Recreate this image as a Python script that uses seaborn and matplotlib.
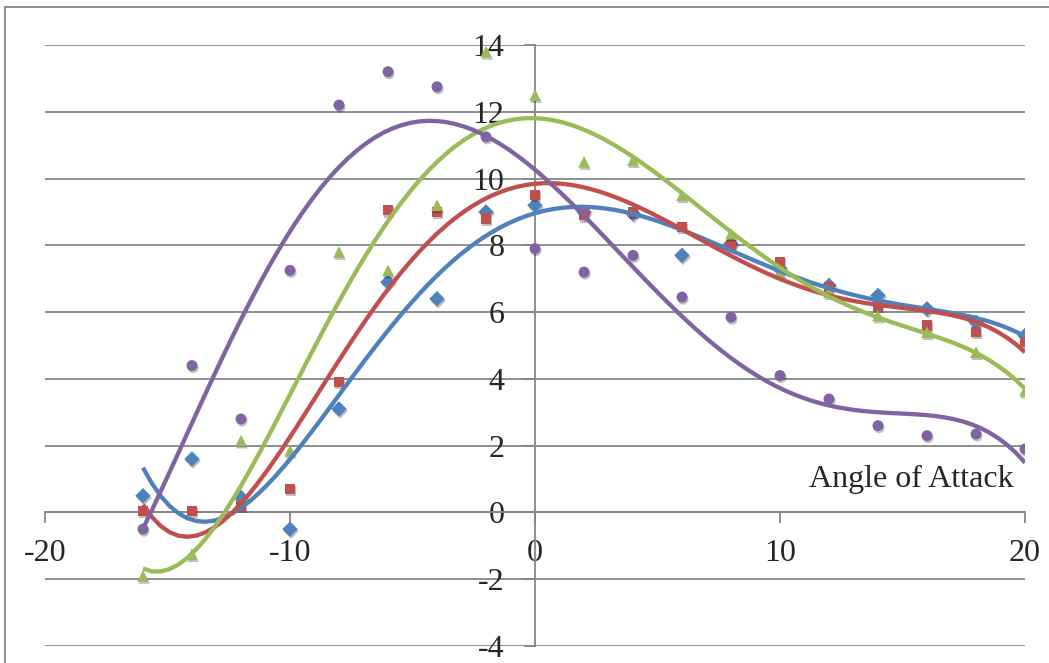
import matplotlib.pyplot as plt
import matplotlib.patheffects as pe
from matplotlib.patches import Rectangle
import numpy as np
import seaborn as sns

# angle of attack values (degrees)
angle = [-16, -14, -12, -10, -8, -6, -4, -2, 0, 2, 4, 6, 8, 10, 12, 14, 16, 18, 20]

# series values
blue = [0.5, 1.6, 0.45, -0.5, 3.1, 6.9, 6.4, 9.0, 9.2, 9.0, 8.95, 7.7, 8.05, 7.3, 6.8, 6.5, 6.1, 5.7, 5.3]
red = [0.05, 0.05, 0.2, 0.7, 3.9, 9.05, 9.0, 8.8, 9.5, 8.9, 9.0, 8.55, 8.0, 7.5, 6.75, 6.2, 5.6, 5.4, 5.1]
green = [-1.9, -1.25, 2.15, 1.85, 7.8, 7.25, 9.2, 13.8, 12.5, 10.5, 10.55, 9.5, 8.35, 7.2, 6.6, 5.9, 5.4, 4.8, 3.65]
purple = [-0.5, 4.4, 2.8, 7.25, 12.2, 13.2, 12.75, 11.25, 7.9, 7.2, 7.7, 6.45, 5.85, 4.1, 3.4, 2.6, 2.3, 2.35, 1.9]

series = [
    (blue, '#4F81BD', 'D', 62),
    (red, '#C0504D', 's', 55),
    (green, '#9BBB59', '^', 70),
    (purple, '#8064A2', 'o', 62),
]

sns.set_style('white')
plt.rcParams['font.family'] = ['Liberation Serif', 'DejaVu Serif']
plt.rcParams['axes.unicode_minus'] = False

fig = plt.figure(figsize=(10.49, 6.63), dpi=100)
ax = fig.add_axes([45 / 1049, 17 / 663, 980 / 1049, 601 / 663])

shadow = [pe.SimplePatchShadow(offset=(0.8, -1.5), shadow_rgbFace='black', alpha=0.25), pe.Normal()]

# polynomial trendlines (order 5) like the spreadsheet ones
for vals, col, mk, size in series:
    sns.regplot(x=np.array(angle), y=np.array(vals), order=5, ci=None, ax=ax,
                marker=mk, color=col,
                scatter_kws=dict(s=size, linewidths=0, alpha=1, zorder=3),
                line_kws=dict(lw=3.1, zorder=4, solid_capstyle='butt'))

for coll in ax.collections:
    coll.set_path_effects(shadow)

ax.set_xlim(-20, 20)
ax.set_ylim(-4, 14)
ax.set_xticks([-20, -10, 0, 10, 20])
ax.set_yticks(np.arange(-4, 15, 2))
ax.set_xlabel('')
ax.set_ylabel('')

ax.grid(axis='y', color='#868686', lw=1.3)
ax.grid(axis='x', visible=False)
ax.set_axisbelow(True)

for s in ['top', 'right']:
    ax.spines[s].set_visible(False)
ax.spines['left'].set_position(('data', 0))
ax.spines['bottom'].set_position(('data', 0))
for s in ['left', 'bottom']:
    ax.spines[s].set_color('#868686')
    ax.spines[s].set_linewidth(1.3)

ax.tick_params(axis='x', direction='out', length=8, width=1.3, color='#868686',
               pad=11, labelsize=23, bottom=True)
ax.tick_params(axis='y', direction='out', length=8, width=1.3, color='#868686',
               pad=14, labelsize=23, left=True)

ax.text(0.988, 0.265, 'Angle of Attack', transform=ax.transAxes,
        ha='right', va='baseline', fontsize=23)

# chart frame: only its left and top edges fall inside the image
fig.patches.append(Rectangle((5 / 1049, -0.05), 1.1, 1.05 - 7 / 663,
                             transform=fig.transFigure, fill=False,
                             edgecolor='#868686', lw=1.3))

fig.savefig('out.png', dpi=100)
